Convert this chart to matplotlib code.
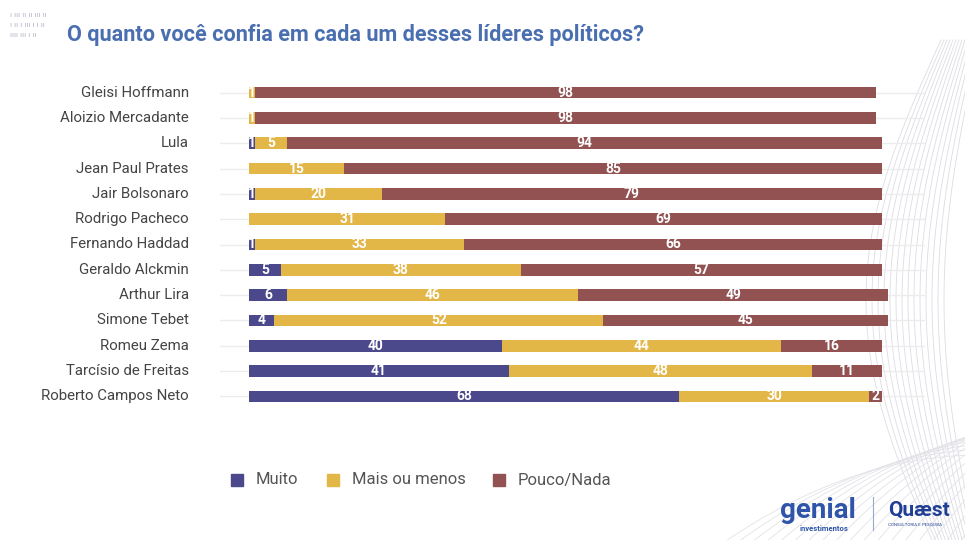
import numpy as np
import matplotlib
matplotlib.use("Agg")
import matplotlib.pyplot as plt
from matplotlib.patches import Rectangle
from matplotlib.lines import Line2D

plt.rcParams['font.family'] = ['Roboto', 'DejaVu Sans']

# dados
lideres = ["Gleisi Hoffmann", "Aloizio Mercadante", "Lula", "Jean Paul Prates",
           "Jair Bolsonaro", "Rodrigo Pacheco", "Fernando Haddad", "Geraldo Alckmin",
           "Arthur Lira", "Simone Tebet", "Romeu Zema", "Tarcísio de Freitas",
           "Roberto Campos Neto"]
muito = [0, 0, 1, 0, 1, 0, 1, 5, 6, 4, 40, 41, 68]
mais_ou_menos = [1, 1, 5, 15, 20, 31, 33, 38, 46, 52, 44, 48, 30]
pouco_nada = [98, 98, 94, 85, 79, 69, 66, 57, 49, 45, 16, 11, 2]
series = ["Muito", "Mais ou menos", "Pouco/Nada"]
cores = ["#4b488c", "#e2b748", "#925252"]

W, H = 965, 540
fig = plt.figure(figsize=(W / 100, H / 100), dpi=100)
fig.patch.set_facecolor("white")

# eixo: x de 220 a 925 px, y de 80 a 409 px
ax = fig.add_axes([220 / W, 1 - 409 / H, 705 / W, 329 / H])
ax.set_xlim(-29 / 6.33, 676 / 6.33)
ax.set_ylim(len(lideres) - 0.5, -0.5)
ax.axis("off")

y = np.arange(len(lideres))
for yi in y:
    ax.axhline(yi, color="#ececec", lw=1, zorder=0)

esquerda = np.zeros(len(lideres))
for nome, vals, cor in zip(series, [muito, mais_ou_menos, pouco_nada], cores):
    vals = np.array(vals, dtype=float)
    ax.barh(y, vals, left=esquerda, height=0.46, color=cor, zorder=2, label=nome)
    for yi, v, l in zip(y, vals, esquerda):
        if v > 0:
            ax.text(l + v / 2, yi, f"{int(v)}", ha="center", va="center",
                    color="white", fontsize=10, fontweight="bold", zorder=3)
    esquerda += vals

for yi, nome in zip(y, lideres):
    ax.text(-29 / 6.33 - 31 / 6.33, yi, nome, ha="right", va="center",
            fontsize=10.8, color="#444444", clip_on=False)

# titulo
fig.text(67 / W, 1 - 35 / H, "O quanto você confia em cada um desses líderes políticos?",
         ha="left", va="center", fontsize=15.6, fontweight="bold", color="#4a6fb0")

# marcas decorativas
rng_marks = ["ı ııı ıı ıı ııı ıı", "ı ıı ı ııı ı ı ıı", "ıııı ııı ı ıı"]
for i, s in enumerate(rng_marks):
    fig.text(10 / W, 1 - (15 + i * 10) / H, s, fontsize=6, color="#b8b8c8",
             ha="left", va="center")

# curvas decorativas no canto direito
t = np.linspace(0, 1, 100)
for k in range(14):
    xs = 980 - 60 * np.sin(np.pi * t) * (0.6 + 0.05 * k) - k * 3
    ys = 40 + t * 520
    fig.add_artist(Line2D(xs / W, 1 - ys / H, color="#dcdce4", lw=0.6,
                          transform=fig.transFigure, zorder=0))
for k in range(18):
    xs = 720 + k * 14 + t * 260
    ys = 545 - (1 - (1 - t) ** 2) * (90 + k * 6)
    fig.add_artist(Line2D(xs / W, 1 - ys / H, color="#e2e2e8", lw=0.6,
                          transform=fig.transFigure, zorder=0))

# legenda
leg_x = [237, 333, 499]
for lx, nome, cor in zip(leg_x, series, cores):
    fig.add_artist(Rectangle(((lx - 6) / W, 1 - (480 + 6) / H), 12 / W, 12 / H,
                             color=cor, transform=fig.transFigure))
    fig.text((lx + 19) / W, 1 - 480 / H, nome, ha="left", va="center",
             fontsize=12, color="#555555")

# logos
fig.text(780 / W, 1 - 518 / H, "genial", fontsize=20, fontweight="bold",
         color="#2f55a8", ha="left", va="baseline")
fig.text(800 / W, 1 - 525 / H, "investimentos", fontsize=5.5, fontweight="bold",
         color="#2f55a8", ha="left", va="top")
fig.add_artist(Line2D([873 / W, 873 / W], [1 - 497 / H, 1 - 530 / H],
                      color="#9aa8d0", lw=0.8, transform=fig.transFigure))
fig.text(888 / W, 1 - 510 / H, "Quæst", fontsize=15, fontweight="bold",
         color="#1f3f95", ha="left", va="center")
fig.text(888 / W, 1 - 525 / H, "CONSULTORIA E PESQUISA", fontsize=3.2,
         color="#1f3f95", ha="left", va="center")

fig.savefig("out.png", dpi=100)
